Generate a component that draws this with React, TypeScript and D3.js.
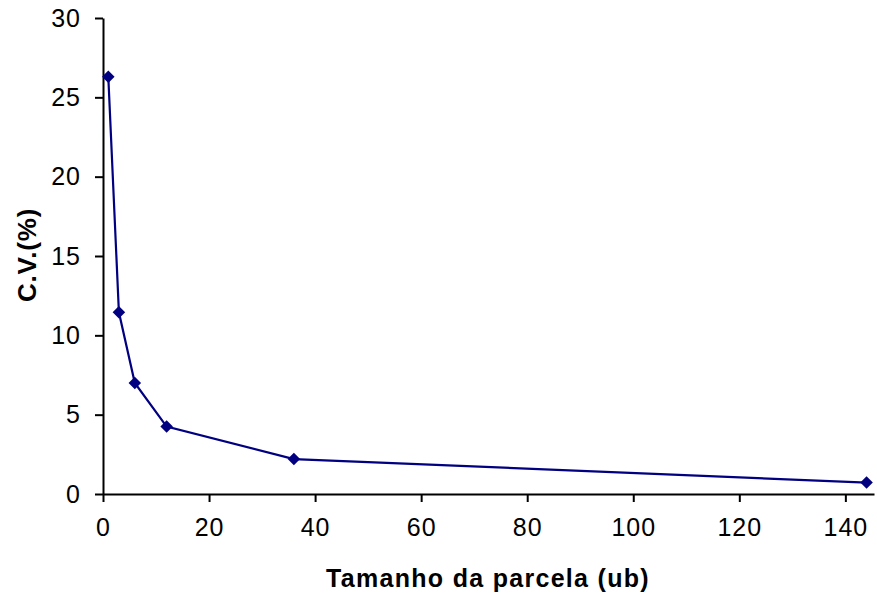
import { useRef, useEffect } from "react";
import * as d3 from "d3";

// ── Data ──────────────────────────────────────────────────────────────────────

const plotSizes = [1, 3, 6, 12, 36, 144];
const cvValues = [26.3, 11.45, 7.0, 4.25, 2.2, 0.72];
const xTicks = [0, 20, 40, 60, 80, 100, 120, 140];
const yTicks = [0, 5, 10, 15, 20, 25, 30];

// ── Constants ─────────────────────────────────────────────────────────────────

const WIDTH = 877;
const HEIGHT = 601;
const MARGIN = { top: 18, right: 3, bottom: 107, left: 103 };
const NAVY = "#000080";
const FONT = "'Liberation Sans', Arial, sans-serif";

function renderChart(svg: SVGSVGElement): void {
  const innerW = WIDTH - MARGIN.left - MARGIN.right;
  const innerH = HEIGHT - MARGIN.top - MARGIN.bottom;

  const root = d3.select(svg);
  root.selectAll("*").remove();

  const g = root.append("g").attr("transform", `translate(${MARGIN.left},${MARGIN.top})`);

  const x = d3.scaleLinear().domain([0, 145.4]).range([0, innerW]);
  const y = d3.scaleLinear().domain([0, 30]).range([innerH, 0]);

  // Y axis
  const yAxis = g
    .append("g")
    .call(d3.axisLeft(y).tickValues(yTicks).tickSize(8).tickSizeOuter(0).tickPadding(14));
  yAxis.select(".domain").attr("stroke", "#000").attr("stroke-width", 2);
  yAxis.selectAll(".tick line").attr("stroke", "#000").attr("stroke-width", 2);
  yAxis
    .selectAll("text")
    .attr("fill", "#000")
    .attr("font-size", 25)
    .attr("letter-spacing", "1px")
    .attr("font-family", FONT);

  // X axis
  const xAxis = g
    .append("g")
    .attr("transform", `translate(0,${innerH})`)
    .call(d3.axisBottom(x).tickValues(xTicks).tickSize(8).tickSizeOuter(0).tickPadding(16));
  xAxis.select(".domain").attr("stroke", "#000").attr("stroke-width", 2);
  xAxis.selectAll(".tick line").attr("stroke", "#000").attr("stroke-width", 2);
  xAxis
    .selectAll("text")
    .attr("fill", "#000")
    .attr("font-size", 25)
    .attr("letter-spacing", "1px")
    .attr("font-family", FONT);

  // Axis titles
  root
    .append("text")
    .attr("x", 488)
    .attr("y", 587)
    .attr("text-anchor", "middle")
    .attr("font-size", 25)
    .attr("font-weight", "bold")
    .attr("letter-spacing", "1.3px")
    .attr("font-family", FONT)
    .text("Tamanho da parcela (ub)");

  root
    .append("text")
    .attr("transform", "translate(36,255) rotate(-90)")
    .attr("text-anchor", "middle")
    .attr("font-size", 26)
    .attr("font-weight", "bold")
    .attr("letter-spacing", "0.8px")
    .attr("font-family", FONT)
    .text("C.V.(%)");

  // Line
  const pts = plotSizes.map((s, i) => [s, cvValues[i]] as [number, number]);
  const line = d3
    .line<[number, number]>()
    .x((d) => x(d[0]))
    .y((d) => y(d[1]));

  g.append("path")
    .datum(pts)
    .attr("d", line)
    .attr("fill", "none")
    .attr("stroke", NAVY)
    .attr("stroke-width", 2.2);

  // Markers
  const diamond = d3.symbol().type(d3.symbolDiamond2).size(100);
  g.selectAll(".pt")
    .data(pts)
    .join("path")
    .attr("class", "pt")
    .attr("transform", (d) => `translate(${x(d[0])},${y(d[1])})`)
    .attr("d", diamond)
    .attr("fill", NAVY);
}

// ── Component ─────────────────────────────────────────────────────────────────

export default function App() {
  const svgRef = useRef<SVGSVGElement>(null);

  useEffect(() => {
    if (!svgRef.current) return;
    renderChart(svgRef.current);
  }, []);

  return (
    <div style={{ position: "absolute", left: 0, top: 0, background: "#fff" }}>
      <svg ref={svgRef} width={WIDTH} height={HEIGHT} style={{ display: "block" }} />
    </div>
  );
}
